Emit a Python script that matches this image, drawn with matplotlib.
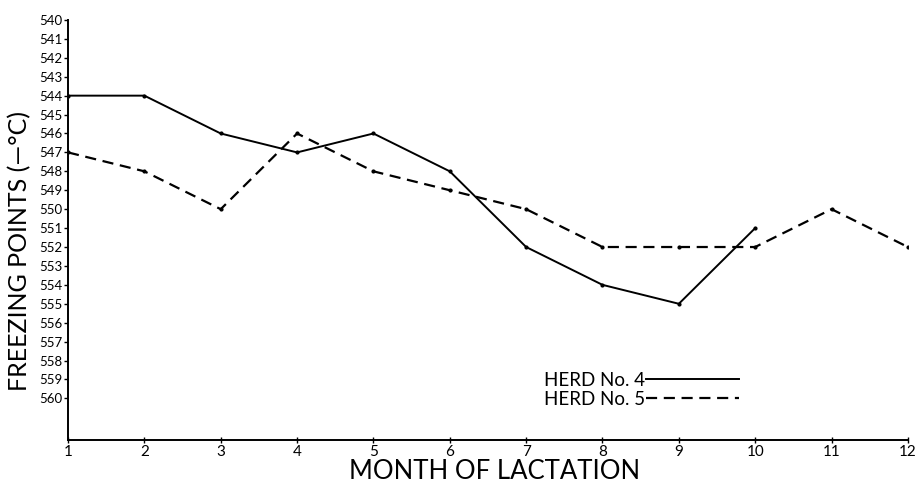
import matplotlib
matplotlib.use("Agg")
import matplotlib.pyplot as plt
from matplotlib.lines import Line2D

plt.rcParams['font.family'] = ['Lato', 'DejaVu Sans']

months_4 = [1, 2, 3, 4, 5, 6, 7, 8, 9, 10]
herd_4 = [544, 544, 546, 547, 546, 548, 552, 554, 555, 551]

months_5 = [1, 2, 3, 4, 5, 6, 7, 8, 9, 10, 11, 12]
herd_5 = [547, 548, 550, 546, 548, 549, 550, 552, 552, 552, 550, 552]

x_ticks = list(range(1, 13))
y_ticks = list(range(540, 561))

fig = plt.figure(figsize=(9.18, 4.87), dpi=100)
ax = fig.add_axes([0.0741, 0.0965, 0.9149, 0.8625])

ax.plot(months_4, herd_4, color='black', lw=1.4, marker='o', ms=2)
ax.plot(months_5, herd_5, color='black', lw=1.6, ls=(0, (5, 3)),
        marker='o', ms=2)

ax.set_xlim(1, 12)
ax.set_ylim(562.2, 540)
ax.set_xticks(x_ticks)
ax.set_yticks(y_ticks)
ax.tick_params(axis='y', direction='out', length=3, width=1, labelsize=9.5, pad=1)
ax.tick_params(axis='x', direction='inout', length=5, width=1, labelsize=11, pad=1)

for side in ['top', 'right']:
    ax.spines[side].set_visible(False)
for side in ['left', 'bottom']:
    ax.spines[side].set_linewidth(1.4)

ax.set_ylabel('FREEZING POINTS (\u2014\u00b0C)', fontsize=18, labelpad=4)
ax.yaxis.set_label_coords(-0.044, 0.45)
fig.text(0.539, 0.006, 'MONTH OF LACTATION', fontsize=18.5, ha='center', va='bottom')

handles = [Line2D([], [], color='black', lw=1.4),
           Line2D([], [], color='black', lw=1.6, ls=(0, (5, 3)))]
ax.legend(handles, ['HERD No. 4', 'HERD No. 5'], loc='lower left',
          bbox_to_anchor=(0.555, 0.055), frameon=False,
          markerfirst=False, handlelength=5.0, handletextpad=0.05,
          labelspacing=0.1, fontsize=13.5, borderpad=0)

fig.savefig('out.png', dpi=100)
